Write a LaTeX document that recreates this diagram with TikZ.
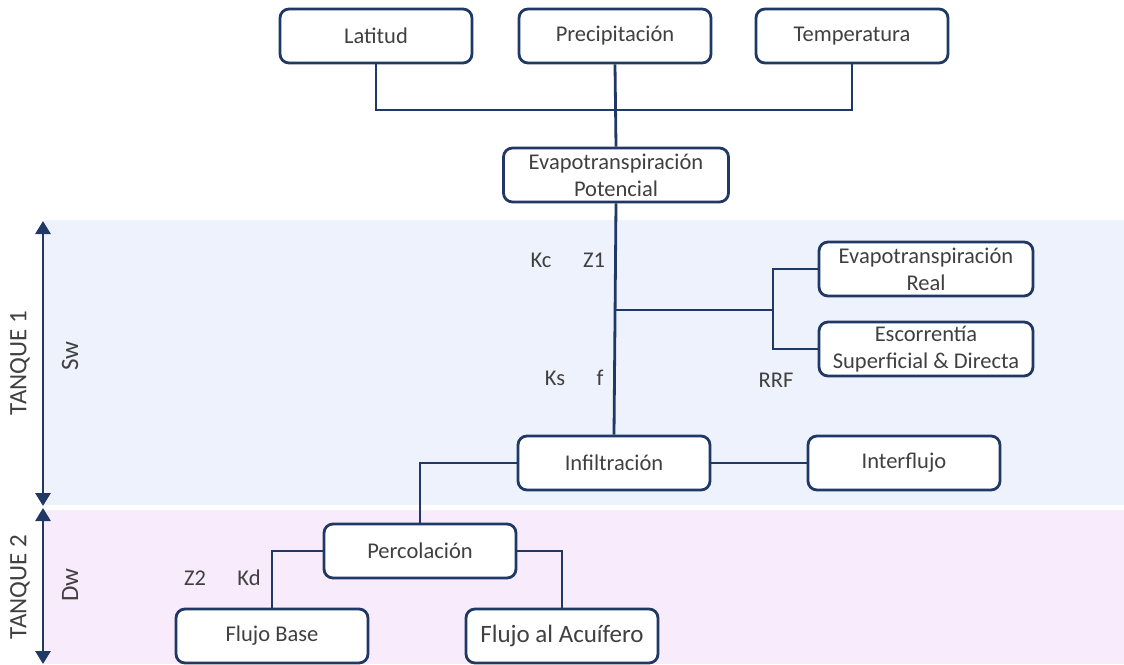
\documentclass[tikz,border=0pt]{standalone}
\usepackage{fontspec}
\setmainfont{Carlito}
\usetikzlibrary{arrows.meta}
\definecolor{navy}{HTML}{1F3864}
\definecolor{txt}{HTML}{404040}
\definecolor{bandone}{HTML}{EEF2FC}
\definecolor{bandtwo}{HTML}{F8EBFB}
\tikzset{
  box/.style={draw=navy, line width=2.8pt, rounded corners=9pt, fill=white,
    minimum width=192pt, minimum height=54pt, align=center, text=txt,
    font=\fontsize{22.5}{27}\selectfont, inner sep=1pt},
  wire/.style={draw=navy, line width=2.8pt},
  lbl/.style={text=txt, font=\fontsize{22.5}{27}\selectfont, inner sep=0pt},
  side/.style={text=txt, font=\fontsize{25}{30}\selectfont, inner sep=0pt, rotate=90},
  span/.style={draw=navy, line width=2.8pt,
    {Triangle[width=15pt,length=13pt]}-{Triangle[width=15pt,length=13pt]}},
}
\begin{document}
\begin{tikzpicture}[x=1pt,y=-1pt]
\useasboundingbox (0,0) rectangle (1124,664);
% tank bands
\fill[bandone] (44,220) rectangle (1124,505);
\fill[bandtwo] (44,510) rectangle (1124,664);

% inputs
\node[box] (lat)  at (376,36)  {Latitud};
\node[box] (prec) at (615,36)  {Precipitación};
\node[box] (temp) at (852,36)  {Temperatura};
\node[box, minimum width=225pt] (etp) at (616,175) {Evapotranspiración\\Potencial};

% upper tank outputs
\node[box, minimum width=214pt] (etr) at (926,269) {Evapotranspiración\\Real};
\node[box, minimum width=214pt] (esc) at (926,349) {Escorrentía\\Superficial \& Directa};
\node[box] (inf)  at (614,463) {Infiltración};
\node[box] (intf) at (904,463) {Interflujo};

% lower tank
\node[box] (perc) at (420,551) {Percolación};
\node[box] (fb)   at (272,636) {Flujo Base};
\node[box, font=\fontsize{25}{30}\selectfont] (fa) at (562,636) {Flujo al Acuífero};

% junctions
\coordinate (hz)   at (615,110);
\coordinate (br)   at (615,310);
\coordinate (fork) at (773,310);

% connectors
\draw[wire] (lat.south) |- (hz) -| (temp.south);
\draw[wire] (prec.south) -- (etp.north);
\draw[wire] (etp.south) -- (inf.north);
\draw[wire] (br) -- (fork);
\draw[wire] (etr.west) -| (fork) |- (esc.west);
\draw[wire] (inf.east) -- (intf.west);
\draw[wire] (inf.west) -| (perc.north);
\draw[wire] (perc.west) -| (fb.north);
\draw[wire] (perc.east) -| (fa.north);

% parameters
\node[lbl] (kc)  at (541,260) {Kc};
\node[lbl] (z1)  at (594,260) {Z1};
\node[lbl] (ks)  at (555,378) {Ks};
\node[lbl] (ff)  at (600,378) {f};
\node[lbl] (rrf) at (776,380) {RRF};
\node[lbl] (z2)  at (195,578) {Z2};
\node[lbl] (kd)  at (249,578) {Kd};

% tank extents
\coordinate (t1top) at (43,221);
\coordinate (t1bot) at (43,506);
\coordinate (t2top) at (43,508);
\coordinate (t2bot) at (43,664);
\draw[span] (t1top) -- (t1bot);
\draw[span] (t2top) -- (t2bot);
\node[side] (tq1) at (20,363) {TANQUE 1};
\node[side] (sw)  at (70,356) {Sw};
\node[side] (tq2) at (20,587) {TANQUE 2};
\node[side] (dw)  at (70,585) {Dw};
\end{tikzpicture}
\end{document}
